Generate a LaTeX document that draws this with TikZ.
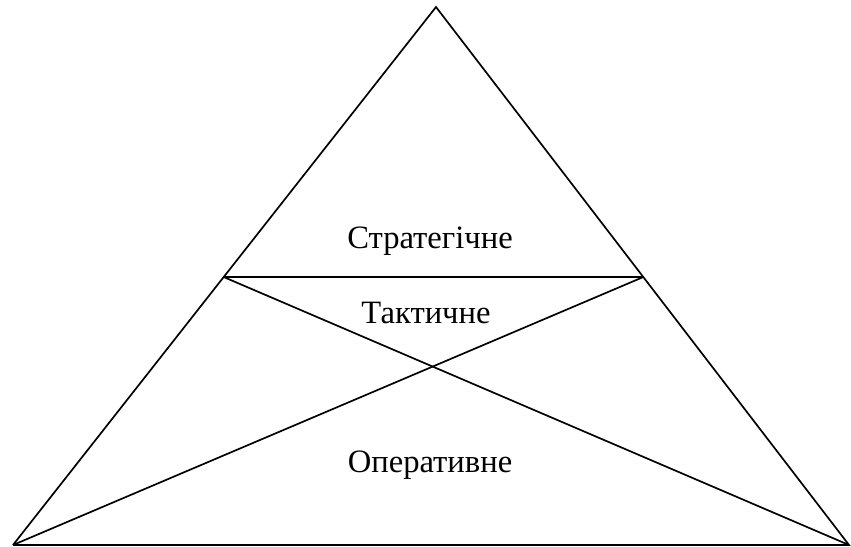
\documentclass[tikz,border=0pt]{standalone}
\usepackage{fontspec}
\setmainfont{Liberation Serif}
\usetikzlibrary{calc}
\begin{document}
\begin{tikzpicture}[line width=1.2pt,txt/.style={font=\fontsize{23.2}{27}\selectfont}]
	\useasboundingbox(0,0)rectangle(21.275,13.65);
	\coordinate(top)at(10.9,13.475);
	\coordinate(bl)at(0.325,0.025);
	\coordinate(br)at(21.225,0.025);
	\coordinate(ml)at($(top)!0.5019!(bl)$);
	\coordinate(mr)at($(top)!0.5019!(br)$);
	\draw(bl)--(top)--(br)--(bl);
	\draw(ml)--(mr);
	\draw(ml)--(br);
	\draw(mr)--(bl);
	\node[txt](strat)at(10.75,7.62){Стратегічне};
	\node[txt](takt)at(10.65,5.82){Тактичне};
	\node[txt](oper)at(10.75,2.02){Оперативне};
\end{tikzpicture}
\end{document}
